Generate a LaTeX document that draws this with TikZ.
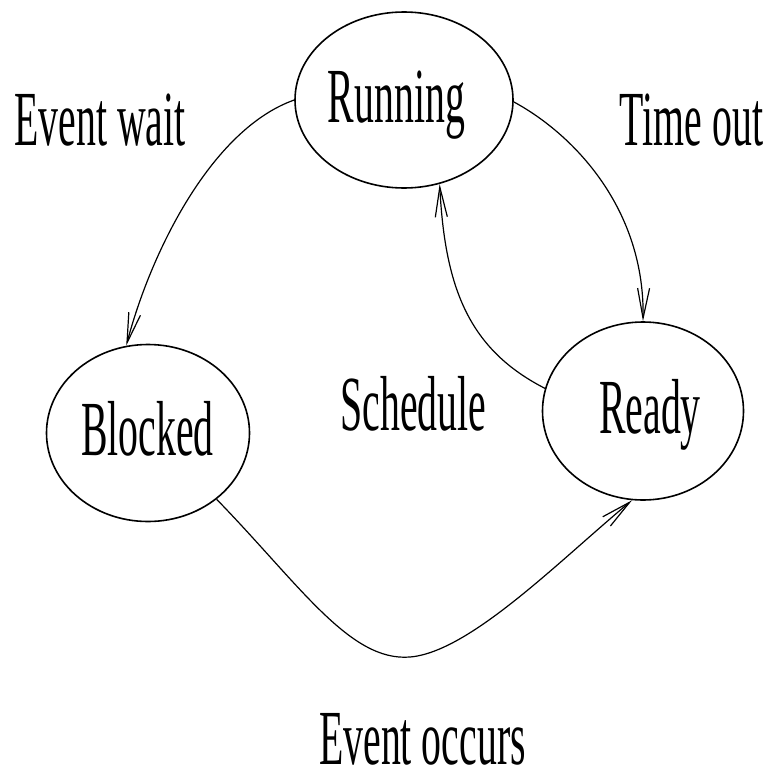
\documentclass[tikz,border=0pt]{standalone}
\usepackage{fontspec}
\setmainfont[FakeStretch=0.51]{Liberation Serif}
\usetikzlibrary{shapes.geometric,arrows.meta}
\begin{document}
\begin{tikzpicture}[x=1pt,y=-1pt,
  state/.style={draw,ellipse,line width=1.6pt,inner sep=0pt},
  lbl/.style={anchor=base,inner sep=0pt,font=\fontsize{78}{90}\selectfont},
  conn/.style={line width=1.2pt,-{Straight Barb[length=30pt,width=12pt]}}]
\useasboundingbox (0,0) rectangle (775,776);
\node[state,minimum width=218pt,minimum height=176pt] (run) at (404,100) {};
\node[state,minimum width=203pt,minimum height=177pt] (blk) at (148,433) {};
\node[state,minimum width=201pt,minimum height=178pt] (rdy) at (643,411) {};
\node[lbl] (trun) at (396.5,122) {Running};
\node[lbl] (tblk) at (147.5,455) {Blocked};
\node[lbl] (trdy) at (650,433) {Ready};
\node[lbl] (tew) at (100,145) {Event wait};
\node[lbl] (tto) at (691.5,145) {Time out};
\node[lbl] (tsc) at (413.5,430) {Schedule};
\node[lbl] (teo) at (422.5,764) {Event occurs};
\draw[conn] (run.180) .. controls (210,130) and (150,255) .. (blk.104);
\draw[conn] (run.-1) .. controls (575,135) and (645,210) .. (rdy.90);
\draw[conn] (rdy.167) .. controls (470,350) and (445,290) .. (run.-67);
\draw[conn] (blk.-44) .. controls (300,585) and (350,662) .. (410,657)
  .. controls (470,652) and (560,560) .. (rdy.-97);
\end{tikzpicture}
\end{document}
